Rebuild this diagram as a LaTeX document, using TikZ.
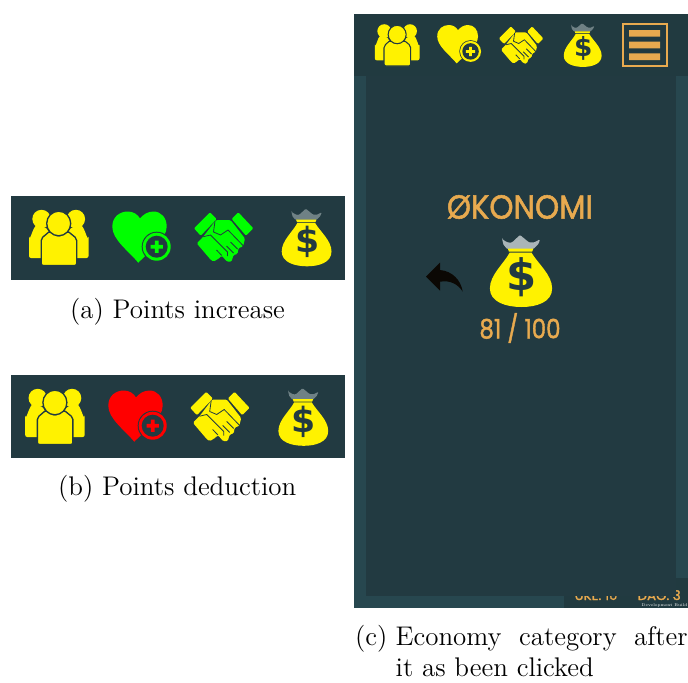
\documentclass[tikz,border=0pt]{standalone}
\usepackage{fontspec}
\usepackage{graphicx}
\newfontfamily\gamefont{Poppins}[RawFeature={embolden=1.6}]
\newfontfamily\dollarfont{DejaVu Sans Bold}
\newcommand{\captxt}[1]{\scalebox{1.685}{\fontsize{12}{14}\selectfont #1}}
\definecolor{panel}{HTML}{223A41}
\definecolor{edge}{HTML}{27474F}
\definecolor{topbar}{HTML}{213A40}
\definecolor{gold}{HTML}{E8AA4F}
\definecolor{crown}{HTML}{6F8185}
\definecolor{crownlight}{HTML}{AAB5B8}
\tikzset{
  capt/.style={anchor=base west,inner sep=0pt},
  gold text/.style={anchor=center,inner sep=0pt,text=gold,font=\gamefont},
  pics/people/.style={code={
    \fill[#1,rounded corners=1.5] (-29.5,20.5) -- (-29.5,-2) to[out=-80,in=200] (-20,-13) -- (-10,-8) -- (-10,20.5) -- cycle;
    \fill[#1,rounded corners=1.5] (30,20.5) -- (30,-2) to[out=-100,in=-20] (20.5,-13) -- (10,-8) -- (10,20.5) -- cycle;
    \fill[#1] (-17,-18.5) circle[radius=9.2] (17.4,-18.5) circle[radius=9.2];
    \filldraw[fill=#1,draw=panel,rounded corners=1.5] (-17.3,28) -- (-17.3,1) -- (-8.5,-6.5) -- (0,-.8) -- (9,-6.5) -- (18.2,1) -- (18.2,28) -- cycle;
    \filldraw[fill=#1,draw=panel] (.2,-14) ellipse[x radius=12,y radius=12.3];
  }},
  pics/heart/.style={code={
    \fill[#1] (-1.7,25.2) .. controls (-12,13) and (-27.7,2) .. (-27.7,-10.8)
      .. controls (-27.7,-21) and (-20,-26) .. (-12,-26)
      .. controls (-7,-26) and (-2,-23) .. (0,-19)
      .. controls (3,-23) and (8,-26) .. (13.3,-26)
      .. controls (21,-26) and (26.7,-20) .. (26.7,-10.8)
      .. controls (26.7,2) and (8,15) .. (-1.7,25.2) -- cycle;
    \fill[panel] (16.7,9.2) circle[radius=15];
    \fill[#1] (16.7,9.2) circle[radius=14];
    \fill[panel] (16.7,9.2) circle[radius=11];
    \fill[#1] (14.9,3) rectangle (18.5,15.4) (10.5,7.4) rectangle (22.9,11);
  }},
  pics/shake/.style={code={
    \fill[#1,rounded corners=.8] (-29.5,-8.7) -- (-13.5,-24.7) -- (-6.8,-18) -- (-22.8,-1.3) -- cycle;
    \fill[#1,rounded corners=.8] (8.2,-18) -- (14.8,-24.7) -- (29.8,-8.7) -- (22.5,-1.3) -- cycle;
    \fill[#1,rounded corners=1] (-7.5,-17) -- (7,-17) -- (21.5,1.5) -- (19.5,9.5) -- (15,11) -- (14,17) -- (10,18) -- (8,24.7) -- (3.5,24.7) -- (-1.8,18.5) -- (-4,21) -- (-10,24.7) -- (-13,22.5) -- (-26.8,6.3) -- (-20.2,-.3) -- cycle;
    \draw[panel,line width=.6pt,line join=round] (-8.5,-16) -- (-10,-5) -- (-3,-2) -- (4.5,-7) -- (20,9);
    \draw[panel,line width=.6pt,line join=round] (-20.2,-.3) -- (-13,-2) -- (4,15) -- (4,19);
    \draw[panel,line width=.6pt] (-1.8,18.5) -- (-7,13) (7,5) -- (14,12) (3,9) -- (10,16);
  }},
  pics/bag/.style n args={2}{code={
    \fill[#2,rounded corners=.8] (-15.3,-25.5) .. controls (-12,-23) and (-10,-22.5) .. (-7.8,-22.7) -- (-1.2,-28.8) -- (6,-22.9) .. controls (9,-22.5) and (12,-23) .. (14.5,-25.5)
      .. controls (14.5,-22) and (12,-20) .. (9.5,-17.6) -- (-11.4,-17.6) .. controls (-14,-20) and (-15.3,-22) .. (-15.3,-25.5) -- cycle;
    \fill[#1] (-11,-17.9) -- (9.5,-17.9) -- (8.5,-15.5) -- (-10,-15.5) -- cycle;
    \fill[#1] (-9.5,-14.7) -- (8,-14.7) .. controls (13,-6) and (24.5,3) .. (24.5,14)
      .. controls (24.5,25) and (12,28.8) .. (0,28.8)
      .. controls (-12,28.8) and (-25.3,25) .. (-25.3,14)
      .. controls (-25.3,3) and (-14,-6) .. (-9.5,-14.7) -- cycle;
    \node[inner sep=0pt,text=panel,transform shape,font=\dollarfont\fontsize{26}{26}\selectfont] at (0.3,4.7) {\$};
  }}
}
\begin{document}
\begin{tikzpicture}[x=0.75pt,y=-0.75pt,line width=1pt]
\useasboundingbox (0,0) rectangle (688,682);
% strip a
\fill[panel] (11,196) rectangle (345,280);
\pic at (58.5,237.5) {people=yellow};
\pic at (140,237.5) {heart=green};
\pic at (223.5,237) {shake=green};
\pic at (307,237.5) {bag={yellow}{crown}};
\node[capt] (capa) at (69.5,318) {\captxt{(a) Points increase}};
% strip b
\fill[panel] (11,375) rectangle (345,458);
\pic at (54.7,416.5) {people=yellow};
\pic at (136,416.5) {heart=red};
\pic at (219.7,416.5) {shake=yellow};
\pic at (303.7,417) {bag={yellow}{crown}};
\node[capt] (capb) at (57.5,495) {\captxt{(b) Points deduction}};
% panel c
\fill[edge] (354,14) rectangle (688,608);
\fill[topbar] (564,578) rectangle (688,608);
\node[gold text,anchor=base west,font=\gamefont\fontsize{10}{10}\selectfont] (uke) at (574,600) {UKE. 10};
\node[gold text,anchor=base west,font=\gamefont\fontsize{10}{10}\selectfont] (dag) at (637,600) {DAG. 3};
\node[anchor=base east,inner sep=0pt,text=white,font=\fontsize{3}{3}\selectfont] (dev) at (688,606.5) {Development Build};
\fill[panel] (366,76) rectangle (675.5,596);
\fill[topbar] (354,14) rectangle (688,76);
\pic[scale=.75,line width=.8pt] at (397,45) {people=yellow};
\pic[scale=.75,line width=.6pt] at (458,44.5) {heart=yellow};
\pic[scale=.75,line width=.6pt] at (521,45) {shake=yellow};
\pic[scale=.76,line width=.6pt] at (583,45) {bag={yellow}{crown}};
\draw[gold,line width=1.9pt] (623.2,23.9) rectangle (666.8,66.1);
\fill[gold] (629,30) rectangle (660,36.7) (629,41.7) rectangle (660,48.3) (629,53.3) rectangle (660,60);
\node[gold text] (title) at (520,207) {\scalebox{.92}[1]{\fontsize{25}{25}\selectfont ØKONOMI}};
\pic[scale=1.25] at (521.5,271) {bag={yellow}{crownlight}};
\node[gold text] (score) at (520,328) {\scalebox{.86}[1]{\fontsize{20}{20}\selectfont 81 / 100}};
\fill[black!95!gold] (426,276.7) -- (440,262.7) -- (440,270) .. controls (452,271) and (461,280) .. (462.7,291.7)
  .. controls (458,284) and (450,280) .. (440,281.7) -- (440,290.7) -- cycle;
\node[capt] (capc) at (354.5,645) {\captxt{(c)}};
\node[capt] (capd) at (395,645) {\captxt{\makebox[130pt][s]{Economy category after}}};
\node[capt] (cape) at (395,676) {\captxt{it as been clicked}};
\end{tikzpicture}
\end{document}
